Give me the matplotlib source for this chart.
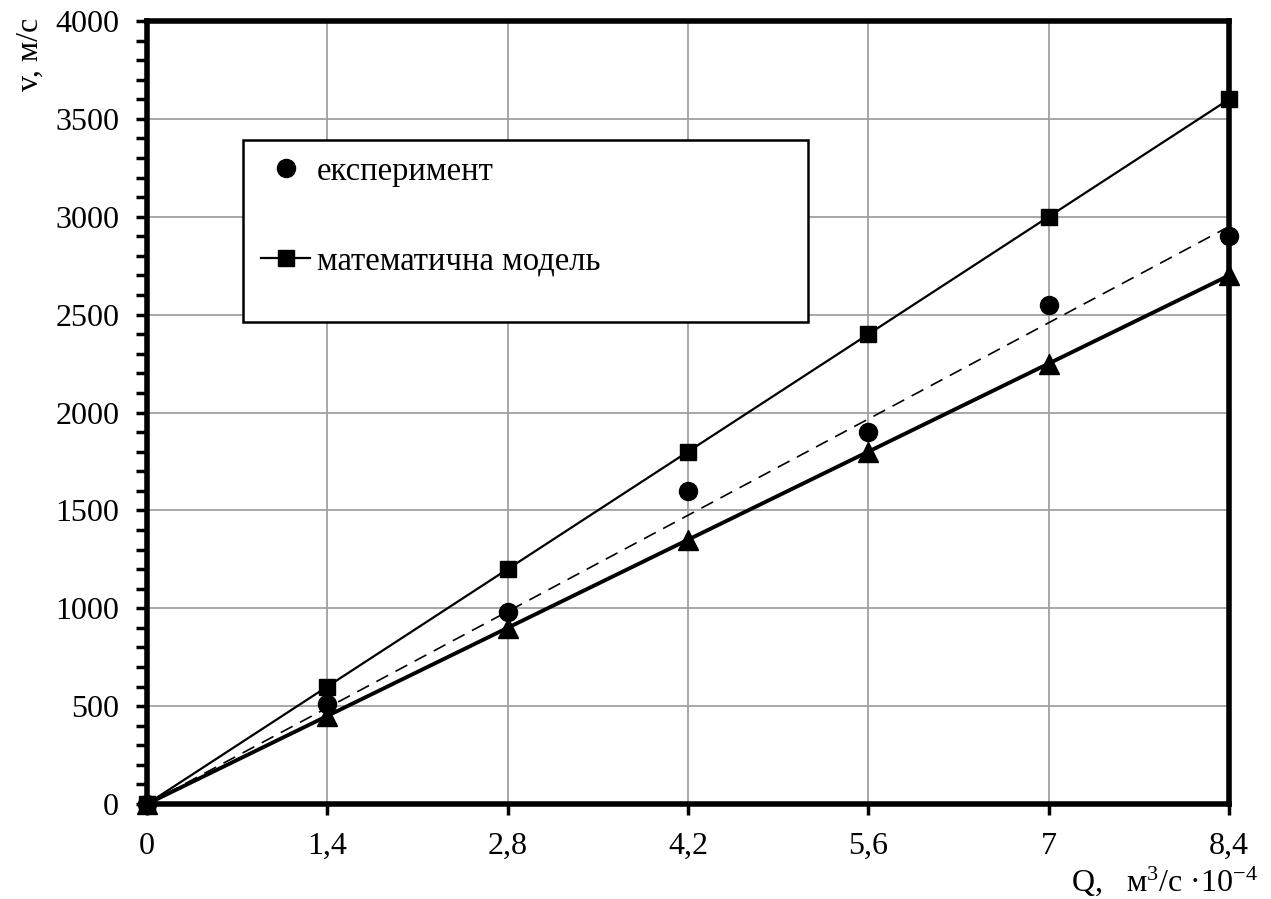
import matplotlib.pyplot as plt
from matplotlib.ticker import MultipleLocator
from matplotlib.patches import Rectangle

plt.rcParams['font.family'] = ['Liberation Serif', 'DejaVu Serif']
plt.rcParams['mathtext.fontset'] = 'custom'
plt.rcParams['mathtext.rm'] = 'Liberation Serif'
plt.rcParams['mathtext.it'] = 'Liberation Serif:italic'

# data
q = [0, 1.4, 2.8, 4.2, 5.6, 7, 8.4]
experiment = [0, 510, 980, 1600, 1900, 2550, 2900]
model = [0, 600, 1200, 1800, 2400, 3000, 3600]
lower = [0, 450, 900, 1350, 1800, 2250, 2700]
trend_q = [0, 8.4]
trend_v = [0, 2950]
x_labels = ['0', '1,4', '2,8', '4,2', '5,6', '7', '8,4']

W, H = 1271, 899
L, R, T, B = 147, 1229, 21, 804
fig = plt.figure(figsize=(W / 100, H / 100), dpi=100)
ax = fig.add_axes([L / W, 1 - B / H, (R - L) / W, (B - T) / H])


def ax_xy(px, py):
    # pixel position in the figure -> axes fraction
    return (px - L) / (R - L), (B - py) / (B - T)


ax.plot(trend_q, trend_v, color='black', lw=1.2, ls=(0, (8, 5)), zorder=3)
ax.plot(q, lower, color='black', lw=2.8, marker='^', ms=14, zorder=4, clip_on=False)
ax.plot(q, model, color='black', lw=1.6, marker='s', ms=11, zorder=4, clip_on=False,
        label='математична модель')
ax.plot(q, experiment, color='black', ls='none', marker='o', ms=13, zorder=5, clip_on=False,
        label='експеримент')

ax.set_xlim(0, 8.4)
ax.set_ylim(0, 4000)
ax.set_xticks(q)
ax.set_xticklabels(x_labels)
ax.yaxis.set_major_locator(MultipleLocator(500))
ax.yaxis.set_minor_locator(MultipleLocator(100))
ax.tick_params(axis='both', which='major', labelsize=23, direction='out', length=8, width=2.5)
ax.tick_params(axis='y', which='minor', direction='out', length=8, width=2.5)
ax.tick_params(axis='x', pad=12)
ax.tick_params(axis='y', pad=12)
ax.grid(True, which='major', color='#a0a0a0', lw=1.3)
ax.set_axisbelow(True)
for s in ax.spines.values():
    s.set_linewidth(4)
    s.set_zorder(6)

fig.text(30 / W, 1 - 54 / H, 'v, м/с', rotation=90, fontsize=23, ha='center', va='center')
fig.text(1258 / W, 1 - 891 / H, 'Q,   м$^3$/с ·10$^{-4}$', fontsize=23, ha='right', va='baseline')

# legend frame
x0, y0 = ax_xy(243, 322)
x1, y1 = ax_xy(808, 140)
ax.add_patch(Rectangle((x0, y0), x1 - x0, y1 - y0, transform=ax.transAxes,
                       facecolor='white', edgecolor='black', lw=1.8, zorder=7))

handles, labels = ax.get_legend_handles_labels()
leg = ax.legend(handles[::-1], labels[::-1], loc='upper left',
                bbox_to_anchor=ax_xy(245, 140),
                fontsize=23.5, frameon=False, borderpad=0, labelspacing=1.8,
                handlelength=1.5, handletextpad=0.2)
leg.set_zorder(8)

fig.savefig('out.png', dpi=100)
